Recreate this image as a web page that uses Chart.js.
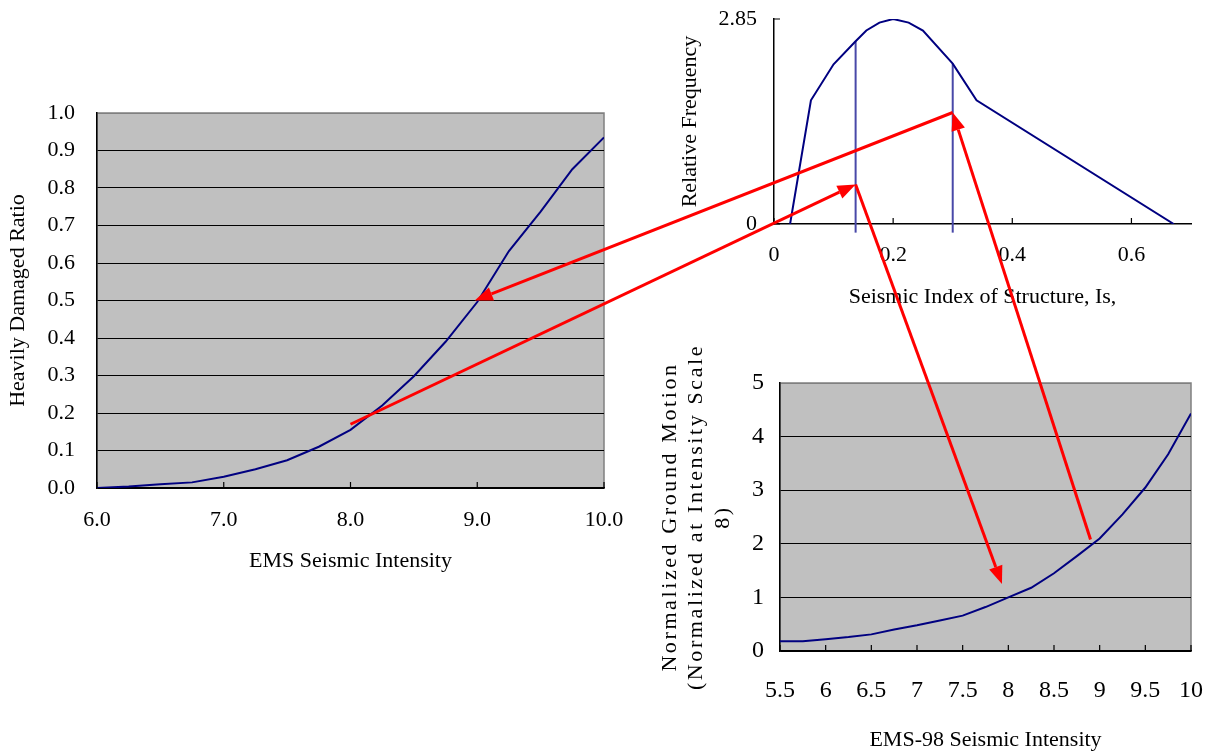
<!DOCTYPE html>
<html>
<head>
<meta charset="utf-8">
<script src="https://cdn.jsdelivr.net/npm/chart.js@4.4.0/dist/chart.umd.min.js"></script>
<style>
  html, body { margin: 0; padding: 0; background: #fff; }
  #page { position: relative; width: 1213px; height: 755px; overflow: hidden; }
  #page canvas { position: absolute; display: block; }
  #arrows { pointer-events: none; }
</style>
</head>
<body>
<div id="page">
  <canvas id="damageChart" width="630" height="500" style="left:0;top:95px"></canvas>
  <canvas id="isChart" width="553" height="320" style="left:660px;top:0"></canvas>
  <canvas id="motionChart" width="573" height="415" style="left:640px;top:340px"></canvas>
  <canvas id="arrows" width="1213" height="755" style="left:0;top:0"></canvas>
</div>
<script>
// Heavily damaged ratio vs EMS intensity (left chart)
const emsIntensity = [6.0, 6.25, 6.5, 6.75, 7.0, 7.25, 7.5, 7.75, 8.0, 8.25, 8.5, 8.75, 9.0, 9.25, 9.5, 9.75, 10.0];
const damagedRatio = [0.0, 0.004, 0.01, 0.015, 0.03, 0.05, 0.074, 0.11, 0.155, 0.22, 0.298, 0.39, 0.496, 0.632, 0.737, 0.85, 0.935];
const damageXTicks = [6, 7, 8, 9, 10];
const damageYTicks = [0, 0.1, 0.2, 0.3, 0.4, 0.5, 0.6, 0.7, 0.8, 0.9, 1.0];

// Relative frequency of the seismic index Is (top chart)
const isValues = [0.027, 0.062, 0.1, 0.137, 0.155, 0.177, 0.2, 0.226, 0.25, 0.3, 0.34, 0.671];
const relFrequency = [0, 1.72, 2.22, 2.54, 2.69, 2.8, 2.85, 2.8, 2.69, 2.23, 1.72, 0];
const isMarkers = [0.137, 0.3];
const isMarkerTops = [2.54, 2.23];
const isXTicks = [0, 0.2, 0.4, 0.6];
const isYTicks = [0, 2.85];

// Normalized ground motion vs EMS-98 intensity (bottom chart)
const ems98 = [5.5, 5.75, 6.0, 6.25, 6.5, 6.75, 7.0, 7.25, 7.5, 7.75, 8.0, 8.25, 8.5, 8.75, 9.0, 9.25, 9.5, 9.75, 10.0];
const groundMotion = [0.18, 0.18, 0.22, 0.26, 0.31, 0.4, 0.48, 0.57, 0.66, 0.82, 1.0, 1.18, 1.45, 1.77, 2.1, 2.55, 3.05, 3.67, 4.43];
const motionXTicks = [5.5, 6, 6.5, 7, 7.5, 8, 8.5, 9, 9.5, 10];
const motionYTicks = [0, 1, 2, 3, 4, 5];

// Red arrows between charts: [chart, x, y] in each chart's own data units
const arrowLinks = [
  { from: ["isChart", 0.3, 1.55], to: ["damageChart", 8.98, 0.5] },
  { from: ["damageChart", 8.0, 0.17], to: ["isChart", 0.137, 0.55] },
  { from: ["isChart", 0.137, 0.55], to: ["motionChart", 7.93, 1.25] },
  { from: ["motionChart", 8.9, 2.08], to: ["isChart", 0.3, 1.55] },
];

const serif = "'Liberation Serif', 'Times New Roman', serif";
const navy = "#000080";

function pinTicks(values) {
  return scale => { scale.ticks = values.map(v => ({ value: v })); };
}

// force axis sizes so the plot areas land where the original has them
function fixX(h) {
  return s => { s.height = h; s.paddingLeft = 0; s.paddingRight = 0; };
}
function fixY(w) {
  return s => { s.width = w; s.paddingTop = 0; s.paddingBottom = 0; };
}

// gray plot area with a gray frame
const plotBackground = {
  id: "plotBackground",
  beforeDraw(chart, args, opts) {
    if (!opts.color) return;
    const { ctx, chartArea: a } = chart;
    ctx.save();
    ctx.fillStyle = opts.color;
    ctx.fillRect(a.left, a.top, a.width, a.height);
    ctx.strokeStyle = opts.frame;
    ctx.lineWidth = 1.5;
    ctx.strokeRect(a.left, a.top, a.width, a.height);
    ctx.restore();
  }
};

// short tick marks pointing into the plot
const innerTicks = {
  id: "innerTicks",
  afterDraw(chart, args, opts) {
    const { ctx, chartArea: a, scales } = chart;
    const len = opts.len || 6;
    ctx.save();
    ctx.strokeStyle = "#000";
    ctx.lineWidth = 1.2;
    ctx.beginPath();
    if (opts.x) {
      scales.x.ticks.forEach(t => {
        const px = scales.x.getPixelForValue(t.value);
        ctx.moveTo(px, a.bottom);
        ctx.lineTo(px, a.bottom - len);
      });
    }
    if (opts.y) {
      scales.y.ticks.forEach(t => {
        const py = scales.y.getPixelForValue(t.value);
        ctx.moveTo(a.left, py);
        ctx.lineTo(a.left + len, py);
      });
    }
    ctx.stroke();
    ctx.restore();
  }
};

// letter-spaced y title (bottom chart)
const spacedTitle = {
  id: "spacedTitle",
  afterLayout(chart, args, opts) {
    const s = chart.scales.y;
    if (s._spaced) return;
    const orig = s.drawTitle;
    s.drawTitle = function () {
      this.ctx.save();
      this.ctx.letterSpacing = opts.spacing;
      orig.apply(this, arguments);
      this.ctx.restore();
    };
    s._spaced = true;
  }
};

function axisFont(size) {
  return { family: serif, size: size };
}

// Left chart
const damageChart = new Chart(document.getElementById("damageChart"), {
  type: "scatter",
  data: {
    datasets: [{
      data: emsIntensity.map((x, i) => ({ x: x, y: damagedRatio[i] })),
      showLine: true, borderColor: navy, borderWidth: 2, pointRadius: 0,
    }]
  },
  plugins: [plotBackground, innerTicks],
  options: {
    responsive: false,
    animation: false,
    layout: { padding: { top: 18, right: 26, left: 0, bottom: 0 } },
    plugins: {
      legend: { display: false },
      tooltip: { enabled: false },
      plotBackground: { color: "#c0c0c0", frame: "#808080" },
      innerTicks: { x: true, len: 6 },
    },
    scales: {
      x: {
        type: "linear", min: 6, max: 10,
        afterBuildTicks: pinTicks(damageXTicks),
        afterFit: fixX(107),
        grid: { display: false, drawTicks: false },
        border: { color: "#000", width: 1.5 },
        ticks: { color: "#000", font: axisFont(22), padding: 19, maxRotation: 0, autoSkip: false, callback: v => v.toFixed(1) },
        title: { display: true, text: "EMS Seismic Intensity", color: "#000", font: axisFont(22), padding: { top: 0, bottom: 21 } },
      },
      y: {
        type: "linear", min: 0, max: 1,
        afterBuildTicks: pinTicks(damageYTicks),
        afterFit: fixY(97),
        grid: { color: c => (c.tick && c.tick.value === 1 ? "#808080" : "#000"), lineWidth: 1, drawTicks: false },
        border: { color: "#000", width: 1.5 },
        ticks: { color: "#000", font: axisFont(22), padding: 22, autoSkip: false, callback: v => v.toFixed(1) },
        title: { display: true, text: "Heavily Damaged Ratio", color: "#000", font: axisFont(22), padding: { top: 5, bottom: 0 } },
      },
    },
  },
});

// Top chart
const isChart = new Chart(document.getElementById("isChart"), {
  type: "scatter",
  data: {
    datasets: [
      {
        data: isValues.map((x, i) => ({ x: x, y: relFrequency[i] })),
        showLine: true, borderColor: navy, borderWidth: 2, pointRadius: 0,
      },
      ...isMarkers.map((m, i) => ({
        data: [{ x: m, y: -0.12 }, { x: m, y: isMarkerTops[i] }],
        showLine: true, borderColor: "#4848a8", borderWidth: 2, pointRadius: 0, clip: false,
      })),
    ]
  },
  plugins: [innerTicks],
  options: {
    responsive: false,
    animation: false,
    layout: { padding: { top: 19, right: 22, left: 0, bottom: 0 } },
    plugins: {
      legend: { display: false },
      tooltip: { enabled: false },
      innerTicks: { x: true, y: true, len: 6 },
    },
    scales: {
      x: {
        type: "linear", min: 0, max: 0.7,
        afterBuildTicks: pinTicks(isXTicks),
        afterFit: fixX(96),
        grid: { display: false, drawTicks: false },
        border: { color: "#000", width: 1.5 },
        ticks: { color: "#000", font: axisFont(22), padding: 18, maxRotation: 0, autoSkip: false, callback: v => String(v) },
        title: { display: true, text: "Seismic Index of Structure, Is,", color: "#000", font: axisFont(22), padding: { top: 0, bottom: 10 } },
      },
      y: {
        type: "linear", min: 0, max: 2.85,
        afterBuildTicks: pinTicks(isYTicks),
        afterFit: fixY(114),
        grid: { display: false, drawTicks: false },
        border: { color: "#000", width: 1.5 },
        ticks: { color: "#000", font: axisFont(22), padding: 17, autoSkip: false, callback: v => String(v) },
        title: { display: true, text: "Relative Frequency", color: "#000", font: axisFont(22), padding: { top: 17, bottom: 0 } },
      },
    },
  },
});

// Bottom chart
const motionChart = new Chart(document.getElementById("motionChart"), {
  type: "scatter",
  data: {
    datasets: [{
      data: ems98.map((x, i) => ({ x: x, y: groundMotion[i] })),
      showLine: true, borderColor: navy, borderWidth: 2, pointRadius: 0,
    }]
  },
  plugins: [plotBackground, innerTicks, spacedTitle],
  options: {
    responsive: false,
    animation: false,
    layout: { padding: { top: 43, right: 22, left: 0, bottom: 0 } },
    plugins: {
      legend: { display: false },
      tooltip: { enabled: false },
      plotBackground: { color: "#c0c0c0", frame: "#808080" },
      innerTicks: { x: true, len: 6 },
      spacedTitle: { spacing: "2.6px" },
    },
    scales: {
      x: {
        type: "linear", min: 5.5, max: 10,
        afterBuildTicks: pinTicks(motionXTicks),
        afterFit: fixX(104),
        grid: { display: false, drawTicks: false },
        border: { color: "#000", width: 1.5 },
        ticks: { color: "#000", font: axisFont(24), padding: 25, maxRotation: 0, autoSkip: false, callback: v => String(v) },
        title: { display: true, text: "EMS-98 Seismic Intensity", color: "#000", font: axisFont(22), padding: { top: 0, bottom: 2 } },
      },
      y: {
        type: "linear", min: 0, max: 5,
        afterBuildTicks: pinTicks(motionYTicks),
        afterFit: fixY(140),
        grid: { color: c => (c.tick && c.tick.value === 5 ? "#808080" : "#000"), lineWidth: 1, drawTicks: false },
        border: { color: "#000", width: 1.5 },
        ticks: { color: "#000", font: axisFont(24), padding: 16, autoSkip: false, callback: v => String(v) },
        title: {
          display: true,
          text: ["Normalized Ground Motion", "(Normalized at Intensity Scale", "8)"],
          color: "#000", font: axisFont(22), padding: { top: 17, bottom: 0 },
        },
      },
    },
  },
});

// Overlay arrows, positioned through each chart's scales
const charts = { damageChart: damageChart, isChart: isChart, motionChart: motionChart };

function pagePoint(ref) {
  const chart = charts[ref[0]];
  const el = chart.canvas;
  return {
    x: el.offsetLeft + chart.scales.x.getPixelForValue(ref[1]),
    y: el.offsetTop + chart.scales.y.getPixelForValue(ref[2]),
  };
}

function drawArrow(ctx, p1, p2) {
  const ang = Math.atan2(p2.y - p1.y, p2.x - p1.x);
  const head = 18, half = 7;
  const bx = p2.x - head * Math.cos(ang);
  const by = p2.y - head * Math.sin(ang);
  ctx.beginPath();
  ctx.moveTo(p1.x, p1.y);
  ctx.lineTo(bx, by);
  ctx.stroke();
  ctx.beginPath();
  ctx.moveTo(p2.x, p2.y);
  ctx.lineTo(bx + half * Math.sin(ang), by - half * Math.cos(ang));
  ctx.lineTo(bx - half * Math.sin(ang), by + half * Math.cos(ang));
  ctx.closePath();
  ctx.fill();
}

const actx = document.getElementById("arrows").getContext("2d");
actx.strokeStyle = "#ff0000";
actx.fillStyle = "#ff0000";
actx.lineWidth = 3;
arrowLinks.forEach(link => drawArrow(actx, pagePoint(link.from), pagePoint(link.to)));
</script>
</body>
</html>
